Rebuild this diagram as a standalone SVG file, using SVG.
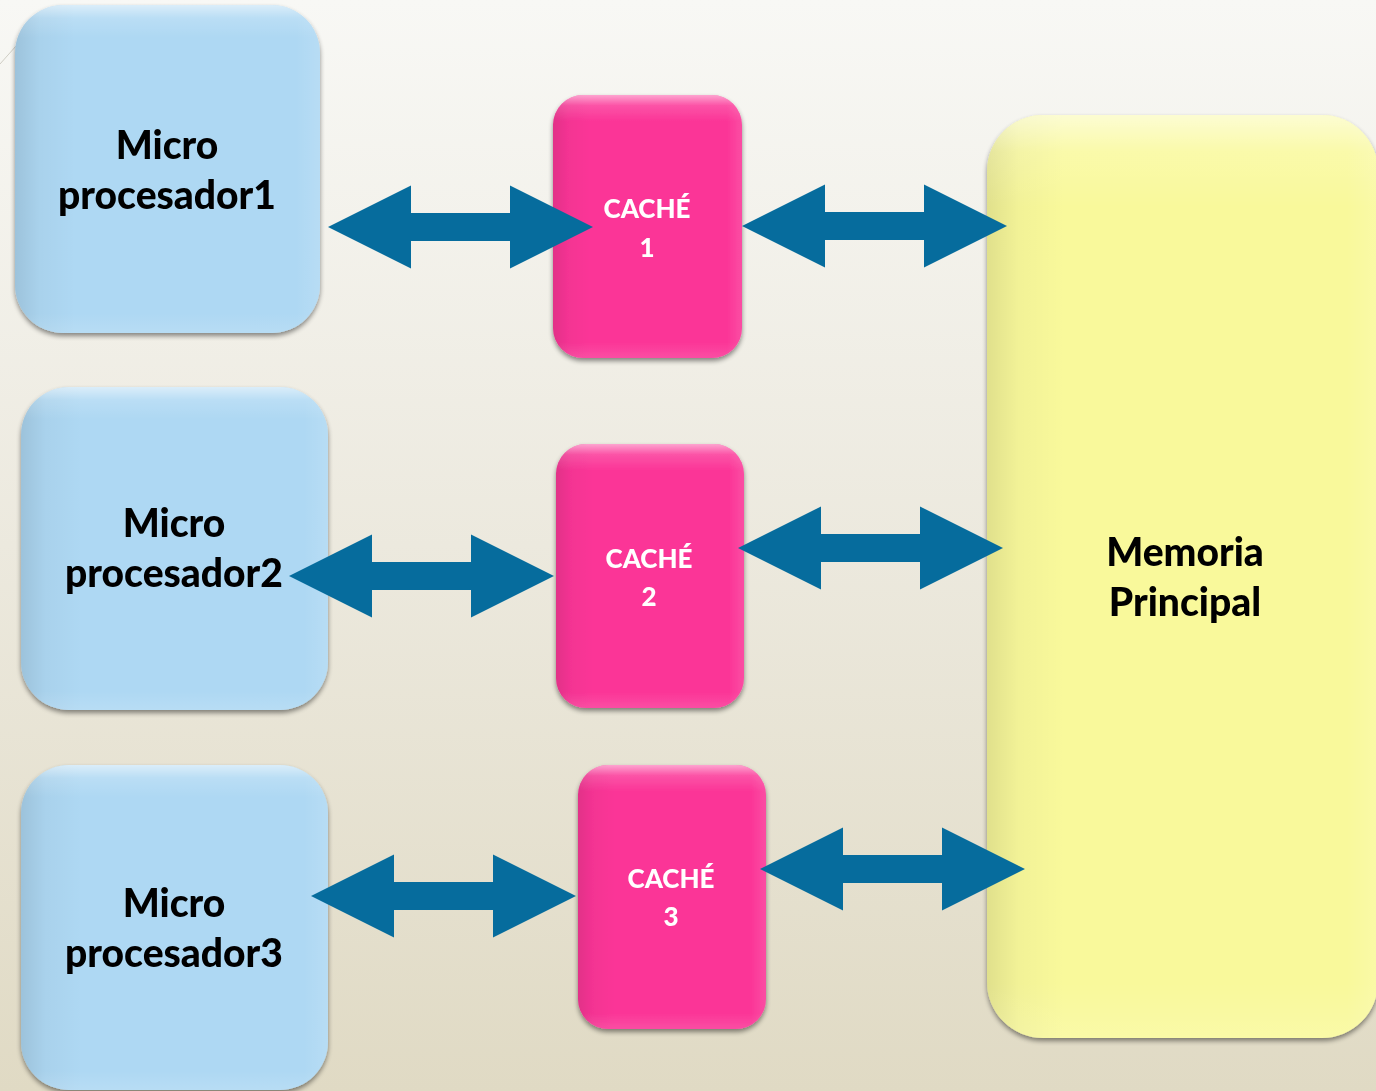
<svg xmlns="http://www.w3.org/2000/svg" width="1376" height="1091" viewBox="0 0 1376 1091">
  <defs>
    <linearGradient id="bg" x1="0" y1="0" x2="0" y2="1">
      <stop offset="0" stop-color="#f8f8f5"/>
      <stop offset="0.5" stop-color="#ece9de"/>
      <stop offset="1" stop-color="#e0dac4"/>
    </linearGradient>
    <!-- soft edge shading shared by all boxes -->
    <linearGradient id="edgeLeft" x1="0" y1="0" x2="1" y2="0">
      <stop offset="0" stop-color="#000" stop-opacity="0.10"/>
      <stop offset="0.08" stop-color="#000" stop-opacity="0.03"/>
      <stop offset="0.2" stop-color="#000" stop-opacity="0"/>
      <stop offset="0.92" stop-color="#fff" stop-opacity="0"/>
      <stop offset="1" stop-color="#fff" stop-opacity="0.12"/>
    </linearGradient>
    <linearGradient id="edgeTop" x1="0" y1="0" x2="0" y2="1">
      <stop offset="0" stop-color="#fff" stop-opacity="0.55"/>
      <stop offset="0.04" stop-color="#fff" stop-opacity="0.15"/>
      <stop offset="0.1" stop-color="#fff" stop-opacity="0"/>
      <stop offset="0.94" stop-color="#fff" stop-opacity="0"/>
      <stop offset="1" stop-color="#fff" stop-opacity="0.12"/>
    </linearGradient>
    <filter id="shadow" x="-10%" y="-10%" width="120%" height="120%">
      <feGaussianBlur in="SourceAlpha" stdDeviation="2.5"/>
      <feOffset dx="0" dy="3" result="b"/>
      <feComponentTransfer><feFuncA type="linear" slope="0.45"/></feComponentTransfer>
      <feMerge><feMergeNode/><feMergeNode in="SourceGraphic"/></feMerge>
    </filter>
    <!-- double-headed block arrow, 265 long, centred on y=0 -->
    <path id="dblArrow" d="M0,0 L83,-41.5 L83,-14 L182,-14 L182,-41.5 L265,0 L182,41.5 L182,14 L83,14 L83,41.5 Z"/>
    <style>
      .cpu { fill: #aed8f3; }
      .cache { fill: #fb3597; }
      .mem { fill: #f9f99b; }
      .shadeL { fill: url(#edgeLeft); }
      .shadeT { fill: url(#edgeTop); }
      .lbl { font-family: Lato, "Liberation Sans", sans-serif; font-weight: 900; text-anchor: middle; }
      .dark { fill: #000; font-size: 39px; }
      .light { fill: #fff; font-size: 26px; }
      .arrow { fill: #066c9d; }
    </style>
  </defs>

  <rect width="1376" height="1091" fill="url(#bg)"/>
  <line x1="0" y1="64" x2="16" y2="46" stroke="#cfcdc4" stroke-width="1"/>

  <g id="micro1" filter="url(#shadow)">
    <rect class="cpu" x="15" y="5" width="305" height="328" rx="48"/>
    <rect class="shadeL" x="15" y="5" width="305" height="328" rx="48"/>
    <rect class="shadeT" x="15" y="5" width="305" height="328" rx="48"/>
    <text class="lbl dark" x="167" y="159">Micro</text>
    <text class="lbl dark" x="167" y="209">procesador1</text>
  </g>
  <g id="micro2" filter="url(#shadow)">
    <rect class="cpu" x="21" y="387" width="307" height="323" rx="48"/>
    <rect class="shadeL" x="21" y="387" width="307" height="323" rx="48"/>
    <rect class="shadeT" x="21" y="387" width="307" height="323" rx="48"/>
    <text class="lbl dark" x="174" y="537">Micro</text>
    <text class="lbl dark" x="174" y="587">procesador2</text>
  </g>
  <g id="micro3" filter="url(#shadow)">
    <rect class="cpu" x="21" y="765" width="307" height="325" rx="48"/>
    <rect class="shadeL" x="21" y="765" width="307" height="325" rx="48"/>
    <rect class="shadeT" x="21" y="765" width="307" height="325" rx="48"/>
    <text class="lbl dark" x="174" y="917">Micro</text>
    <text class="lbl dark" x="174" y="967">procesador3</text>
  </g>

  <g id="cache1" filter="url(#shadow)">
    <rect class="cache" x="553" y="95" width="189" height="263" rx="30"/>
    <rect class="shadeL" x="553" y="95" width="189" height="263" rx="30"/>
    <rect class="shadeT" x="553" y="95" width="189" height="263" rx="30"/>
    <text class="lbl light" x="647" y="218">CACHÉ</text>
    <text class="lbl light" x="647" y="257">1</text>
  </g>
  <g id="cache2" filter="url(#shadow)">
    <rect class="cache" x="556" y="444" width="188" height="264" rx="30"/>
    <rect class="shadeL" x="556" y="444" width="188" height="264" rx="30"/>
    <rect class="shadeT" x="556" y="444" width="188" height="264" rx="30"/>
    <text class="lbl light" x="649" y="568">CACHÉ</text>
    <text class="lbl light" x="649" y="606">2</text>
  </g>
  <g id="cache3" filter="url(#shadow)">
    <rect class="cache" x="578" y="765" width="188" height="264" rx="30"/>
    <rect class="shadeL" x="578" y="765" width="188" height="264" rx="30"/>
    <rect class="shadeT" x="578" y="765" width="188" height="264" rx="30"/>
    <text class="lbl light" x="671" y="888">CACHÉ</text>
    <text class="lbl light" x="671" y="926">3</text>
  </g>

  <g id="memoria" filter="url(#shadow)">
    <rect class="mem" x="987" y="115" width="391" height="923" rx="56"/>
    <rect class="shadeL" x="987" y="115" width="391" height="923" rx="56"/>
    <rect class="shadeT" x="987" y="115" width="391" height="923" rx="56"/>
    <text class="lbl dark" x="1185" y="566">Memoria</text>
    <text class="lbl dark" x="1185" y="616">Principal</text>
  </g>

  <g id="connectors" class="arrow">
    <use href="#dblArrow" transform="translate(328,227)"/>
    <use href="#dblArrow" transform="translate(742,226)"/>
    <use href="#dblArrow" transform="translate(289,576)"/>
    <use href="#dblArrow" transform="translate(738,548)"/>
    <use href="#dblArrow" transform="translate(311,896)"/>
    <use href="#dblArrow" transform="translate(760,869)"/>
  </g>
</svg>
